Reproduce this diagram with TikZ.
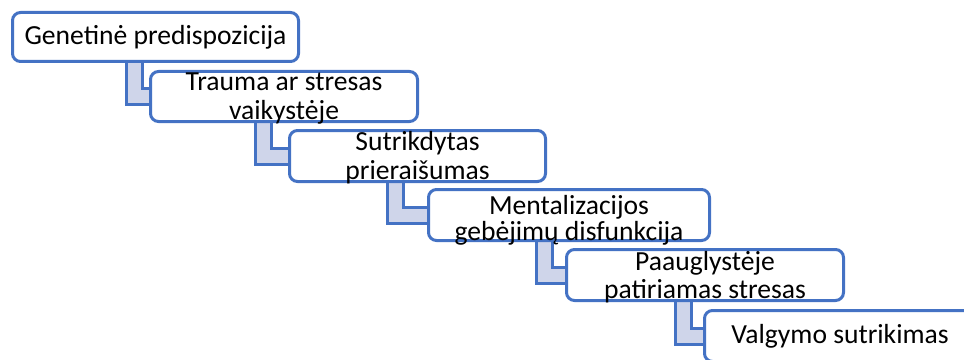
\documentclass[tikz,border=0pt]{standalone}
\usepackage{fontspec}
\setmainfont{Carlito}
\usetikzlibrary{calc}
\pgfdeclarelayer{background}
\pgfsetlayers{background,main}
\definecolor{sablue}{HTML}{4472C4}
\definecolor{salight}{HTML}{CFD5EA}
\tikzset{
  box/.style 2 args={draw=sablue, fill=white, line width=2.25pt, rounded corners=6pt,
    inner sep=0pt, minimum width=#1*0.75pt, minimum height=#2*0.75pt},
  txt/.style={inner sep=0pt, align=center, anchor=base,
    font=\fontsize{20.7}{21}\selectfont},
  conn/.style={draw=sablue, fill=salight, line width=2.25pt},
}
\newcommand\bentconn[3]{%
  \path[conn] let \p1=(#1.south west), \p2=(#2.west) in
    (\x1+#3*0.75pt,\y1+3pt) -- (\x1+#3*0.75pt,\y2-6pt) -- (\x2+3pt,\y2-6pt)
    -- (\x2+3pt,\y2+6pt) -- (\x1+#3*0.75pt+12pt,\y2+6pt)
    -- (\x1+#3*0.75pt+12pt,\y1+3pt) -- cycle;}
\begin{document}
\begin{tikzpicture}[x=0.75pt, y=-0.75pt]
\clip (0,0) rectangle (964,360);
\useasboundingbox (0,0) rectangle (964,360);
% boxes
\node[box={286}{49}] (b1) at (155.5,37) {};
\node[box={267}{50}] (b2) at (284,96.5) {};
\node[box={256}{51}] (b3) at (417.5,156) {};
\node[box={281}{51}] (b4) at (569,215) {};
\node[box={277}{51}] (b5) at (705,275) {};
\node[box={271}{51}] (b6) at (840,336) {};
% texts (base anchor = baseline of the last line)
\node[txt] (t1) at ($(b1.north)+(0,34)$) {Genetinė predispozicija};
\node[txt] (t2) at ($(b2.north)+(0,49)$) {Trauma ar stresas\\vaikystėje};
\node[txt] (t3) at ($(b3.north)+(0,50)$) {Sutrikdytas\\prieraišumas};
\node[txt, font=\fontsize{20.7}{19.5}\selectfont] (t4) at ($(b4.north)+(0,52)$) {Mentalizacijos\\gebėjimų disfunkcija};
\node[txt] (t5) at ($(b5.north)+(0,50)$) {Paauglystėje\\patiriamas stresas};
\node[txt] (t6) at ($(b6.north)+(0,34)$) {Valgymo sutrikimas};
% connectors
\begin{pgfonlayer}{background}
\bentconn{b1}{b2}{115}
\bentconn{b2}{b3}{106}
\bentconn{b3}{b4}{99}
\bentconn{b4}{b5}{109}
\bentconn{b5}{b6}{110}
\end{pgfonlayer}
\end{tikzpicture}
\end{document}
